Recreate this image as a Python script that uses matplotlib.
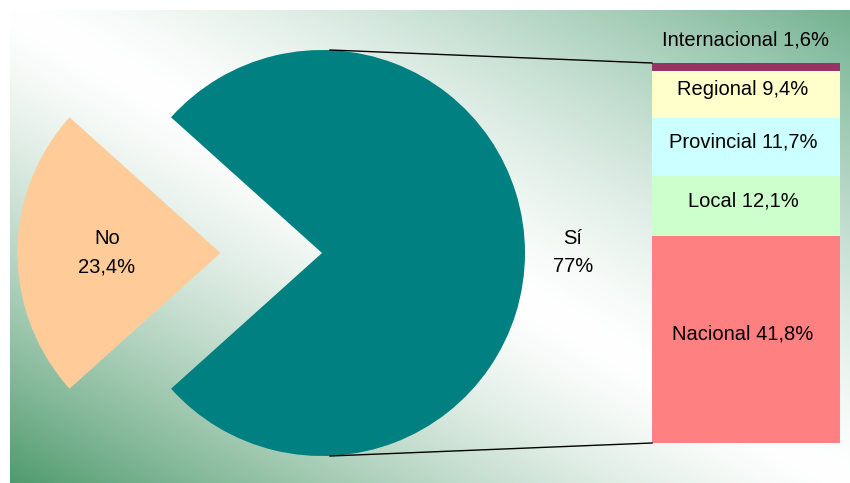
import numpy as np
import matplotlib.pyplot as plt

plt.rcParams['font.family'] = ['Liberation Sans', 'DejaVu Sans']

# pie: Sí / No
pie_labels = ['No', 'Sí']
pie_values = [23.4, 77]
pie_texts = ['No\n23,4%', 'Sí\n77%']
pie_colors = ['#FFCC99', '#008080']

# bar of "Sí", bottom to top
bar_labels = ['Nacional', 'Local', 'Provincial', 'Regional', 'Internacional']
bar_values = [41.8, 12.1, 11.7, 9.4, 1.6]
bar_texts = ['Nacional 41,8%', 'Local 12,1%', 'Provincial 11,7%', 'Regional 9,4%', 'Internacional 1,6%']
bar_colors = ['#FF8080', '#CCFFCC', '#CCFFFF', '#FFFFCC', '#993366']

W, H = 850, 483
fig = plt.figure(figsize=(8.5, 4.83), dpi=100)
ax = fig.add_axes([0, 0, 1, 1])

# background gradient (green corners, white diagonal)
x0, x1, y0, y1 = 10, W, 0, H - 10
xx, yy = np.meshgrid(np.linspace(0, 1, 400), np.linspace(0, 1, 240))
s = yy - xx  # positive towards bottom-left (origin='upper')
w = np.abs(s) ** 1.35
green_bl = np.array([80, 155, 110]) / 255
green_tr = np.array([115, 178, 145]) / 255
green = np.where(s[..., None] > 0, green_bl, green_tr)
img = (1 - w[..., None]) * 1.0 + w[..., None] * green
ax.imshow(img, extent=[x0, x1, y0, y1], origin='upper', aspect='auto', zorder=0)

# pie (explode is in data units here)
cx, cy, r = 322, 230, 203
frac_no = pie_values[0] / sum(pie_values) * 360
wedges, _ = ax.pie(pie_values, colors=pie_colors, startangle=180 - frac_no / 2,
                   center=(cx, cy), radius=r, explode=[0.5 * r, 0], frame=True,
                   wedgeprops=dict(linewidth=0))
ax.set_xlim(0, W)
ax.set_ylim(0, H)
ax.set_aspect('equal')
ax.axis('off')

fs = 14.5
ax.text(107, cy, pie_texts[0], ha='center', va='center', fontsize=fs, linespacing=1.6)
ax.text(573, cy, pie_texts[1], ha='center', va='center', fontsize=fs, linespacing=1.6)

# stacked bar
bx, bw, bbot, btop = 746, 188, 40, 420
scale = (btop - bbot) / sum(bar_values)
bottom = bbot
for val, col, txt in zip(bar_values, bar_colors, bar_texts):
    h = val * scale
    ax.bar(bx, h, width=bw, bottom=bottom, color=col, linewidth=0, zorder=3)
    if txt.startswith('Internacional'):
        ax.text(bx, btop + 23, txt, ha='center', va='center', fontsize=fs, zorder=4)
    else:
        ax.text(bx - 3, bottom + h / 2 + 5, txt, ha='center', va='center', fontsize=fs, zorder=4)
    bottom += h

# connector lines
ax.plot([cx + 8, bx - bw / 2], [cy + r, btop], color='black', linewidth=1, zorder=4)
ax.plot([cx + 8, bx - bw / 2], [cy - r, bbot], color='black', linewidth=1, zorder=4)

fig.savefig('out.png', dpi=100)
